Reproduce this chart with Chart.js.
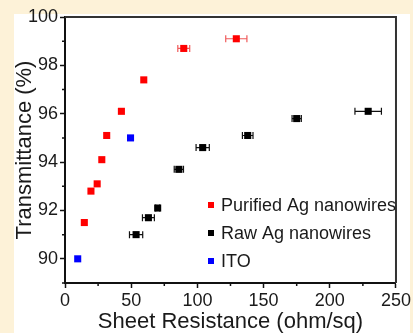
<!DOCTYPE html>
<html>
<head>
<meta charset="utf-8">
<script src="https://cdn.jsdelivr.net/npm/chart.js@4"></script>
<style>
  html, body { margin: 0; padding: 0; background: #fdf2d8; }
  canvas { display: block; }
</style>
</head>
<body>
<canvas id="chart" width="413" height="333"></canvas>
<script>
// data
const purifiedR = [14.6, 19.6, 24.3, 27.8, 31.5, 42.6, 59.5, 89.7, 129.4];
const purifiedT = [91.5, 92.8, 93.1, 94.1, 95.1, 96.1, 97.4, 98.7, 99.1];
const purifiedErr = [0, 0, 0, 0, 0, 0, 0, 4.5, 8];

const rawR = [53.7, 63, 70, 86, 104, 138, 175, 229];
const rawT = [91.0, 91.7, 92.1, 93.7, 94.6, 95.1, 95.8, 96.1];
const rawErr = [5, 4.5, 1.5, 3.5, 5, 4, 3.5, 10];

const itoR = [9.6, 49.5];
const itoT = [90.0, 95.0];

const seriesNames = ["Purified Ag nanowires", "Raw Ag nanowires", "ITO"];
const seriesColors = ["#ff0000", "#000000", "#0000ff"];
const errColors = ["#f05a5a", "#111111", "#0000ff"];

const xTicks = [0, 50, 100, 150, 200, 250];
const xMinor = [25, 75, 125, 175, 225];
const yTicks = [90, 92, 94, 96, 98, 100];
const yMinor = [89, 91, 93, 95, 97, 99];

const fontFamily = "'Liberation Sans', Arial, sans-serif";
const textColor = "#1a1a1a";

function toPoints(xs, ys) {
    return xs.map((x, i) => ({ x: x, y: ys[i] }));
}

// cream page with white panel behind the plot
const backgroundPlugin = {
    id: "background",
    beforeDraw(chart) {
        const ctx = chart.ctx;
        ctx.save();
        ctx.fillStyle = "#fdf2d8";
        ctx.fillRect(0, 0, chart.width, chart.height);
        ctx.fillStyle = "#ffffff";
        ctx.fillRect(14, 14, 396, chart.height - 14);
        ctx.restore();
    }
};

// horizontal error bars, minor ticks, top/right frame and the legend
const extrasPlugin = {
    id: "extras",
    beforeDatasetsDraw(chart) {
        const ctx = chart.ctx;
        const xs = chart.scales.x, ys = chart.scales.y;
        const errs = [purifiedErr, rawErr, []];
        ctx.save();
        chart.data.datasets.forEach((ds, di) => {
            ctx.strokeStyle = errColors[di];
            ctx.lineWidth = 1.2;
            ds.data.forEach((p, i) => {
                const e = errs[di][i];
                if (!e) return;
                const y = ys.getPixelForValue(p.y);
                const x0 = xs.getPixelForValue(p.x - e);
                const x1 = xs.getPixelForValue(p.x + e);
                ctx.beginPath();
                ctx.moveTo(x0, y); ctx.lineTo(x1, y);
                ctx.moveTo(x0, y - 3.5); ctx.lineTo(x0, y + 3.5);
                ctx.moveTo(x1, y - 3.5); ctx.lineTo(x1, y + 3.5);
                ctx.stroke();
            });
        });
        ctx.restore();
    },
    afterDraw(chart) {
        const ctx = chart.ctx;
        const a = chart.chartArea;
        const xs = chart.scales.x, ys = chart.scales.y;
        ctx.save();
        // frame
        ctx.strokeStyle = "#333333";
        ctx.lineWidth = 2;
        ctx.beginPath();
        ctx.moveTo(a.left, a.top);
        ctx.lineTo(a.right, a.top);
        ctx.lineTo(a.right, a.bottom);
        ctx.stroke();
        // minor ticks
        ctx.strokeStyle = "#111111";
        ctx.lineWidth = 1.5;
        ctx.beginPath();
        yMinor.forEach(v => {
            const y = ys.getPixelForValue(v);
            ctx.moveTo(a.left - 3, y); ctx.lineTo(a.left, y);
        });
        xMinor.forEach(v => {
            const x = xs.getPixelForValue(v);
            ctx.moveTo(x, a.bottom); ctx.lineTo(x, a.bottom + 3);
        });
        ctx.stroke();
        // legend
        ctx.font = "18px " + fontFamily;
        ctx.textBaseline = "middle";
        ctx.textAlign = "left";
        seriesNames.forEach((name, i) => {
            const y = 205 + i * 28;
            ctx.fillStyle = seriesColors[i];
            ctx.fillRect(208, y - 3, 6, 6);
            ctx.fillStyle = textColor;
            ctx.fillText(name, 221, y + 1);
        });
        ctx.restore();
    }
};

const pointOpts = {
    pointStyle: "rect",
    pointRadius: 5,
    pointHoverRadius: 5,
    borderWidth: 0,
    showLine: false
};

new Chart(document.getElementById("chart"), {
    type: "scatter",
    data: {
        datasets: [
            Object.assign({ label: seriesNames[0], data: toPoints(purifiedR, purifiedT),
                backgroundColor: seriesColors[0], borderColor: seriesColors[0] }, pointOpts),
            Object.assign({ label: seriesNames[1], data: toPoints(rawR, rawT),
                backgroundColor: seriesColors[1], borderColor: seriesColors[1] }, pointOpts),
            Object.assign({ label: seriesNames[2], data: toPoints(itoR, itoT),
                backgroundColor: seriesColors[2], borderColor: seriesColors[2] }, pointOpts)
        ]
    },
    options: {
        responsive: false,
        animation: false,
        layout: { padding: { left: 14, top: 17, right: 7, bottom: 0 } },
        plugins: {
            legend: { display: false },
            tooltip: { enabled: false }
        },
        scales: {
            x: {
                type: "linear",
                min: 0,
                max: 250,
                afterBuildTicks: s => { s.ticks = xTicks.map(v => ({ value: v })); },
                afterFit: s => { s.height = 50; },
                grid: { drawOnChartArea: false, tickLength: 5, tickWidth: 1.5, tickColor: "#111" },
                border: { color: "#111", width: 2 },
                ticks: { color: textColor, padding: 2, maxRotation: 0,
                    font: { family: fontFamily, size: 18 } },
                title: { display: true, text: "Sheet Resistance (ohm/sq)", color: textColor,
                    padding: 0, font: { family: fontFamily, size: 22, lineHeight: 1 } }
            },
            y: {
                type: "linear",
                min: 89,
                max: 100,
                afterBuildTicks: s => { s.ticks = yTicks.map(v => ({ value: v })); },
                afterFit: s => { s.width = 51; },
                grid: { drawOnChartArea: false, tickLength: 5, tickWidth: 1.5, tickColor: "#111" },
                border: { color: "#111", width: 2 },
                ticks: { color: textColor, padding: 2,
                    font: { family: fontFamily, size: 18 } },
                title: { display: true, text: "Transmittance (%)", color: textColor,
                    padding: 0, font: { family: fontFamily, size: 22, lineHeight: 1 } }
            }
        }
    },
    plugins: [backgroundPlugin, extrasPlugin]
});
</script>
</body>
</html>
